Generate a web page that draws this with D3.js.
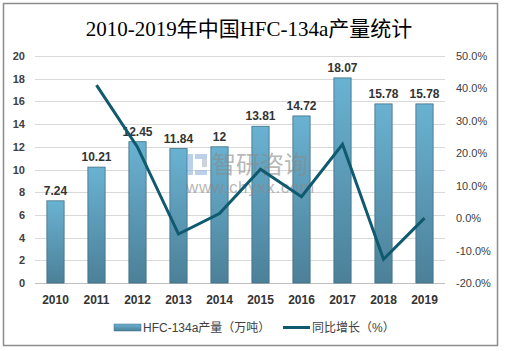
<!DOCTYPE html>
<html>
<head>
<meta charset="utf-8">
<script src="https://cdn.jsdelivr.net/npm/d3@7"></script>
<style>
  body { margin: 0; background: #fff; }
  text { font-family: "Liberation Sans", "Noto Sans CJK SC", sans-serif; }
</style>
</head>
<body>
<div id="chart"></div>
<script>
// data
var years = ["2010", "2011", "2012", "2013", "2014", "2015", "2016", "2017", "2018", "2019"];
var output = [7.24, 10.21, 12.45, 11.84, 12, 13.81, 14.72, 18.07, 15.78, 15.78];
var growth = [null, 41.0, 21.9, -4.9, 1.4, 15.1, 6.6, 22.8, -12.7, 0.0];
var leftTicks = [0, 2, 4, 6, 8, 10, 12, 14, 16, 18, 20];
var rightTicks = [-20, -10, 0, 10, 20, 30, 40, 50];

var W = 505, H = 351;
var margin = {top: 56, right: 60, bottom: 68, left: 35};

var svg = d3.select("#chart").append("svg")
    .attr("width", W)
    .attr("height", H);

// border
svg.append("rect")
    .attr("x", 3.5).attr("y", 3.5)
    .attr("width", 494).attr("height", 342)
    .attr("fill", "#fff")
    .attr("stroke", "#8c8c8c")
    .attr("stroke-width", 1.5);

// title
svg.append("text")
    .attr("x", 249).attr("y", 36)
    .attr("text-anchor", "middle")
    .style("font-family", "'Liberation Serif', 'DejaVu Serif', 'Noto Sans CJK SC', serif")
    .style("font-size", "21px")
    .attr("fill", "#000")
    .text("2010-2019年中国HFC-134a产量统计");

var x = d3.scaleBand()
    .domain(years)
    .range([margin.left, W - margin.right])
    .paddingInner(0.58)
    .paddingOuter(0.29);

var yL = d3.scaleLinear().domain([0, 20]).range([H - margin.bottom, margin.top]);
var yR = d3.scaleLinear().domain([-20, 50]).range([H - margin.bottom, margin.top]);

// gradient for bars
var defs = svg.append("defs");
var grad = defs.append("linearGradient")
    .attr("id", "barGrad")
    .attr("x1", 0).attr("y1", 0).attr("x2", 0).attr("y2", 1);
grad.append("stop").attr("offset", "0%").attr("stop-color", "#6ab2d2");
grad.append("stop").attr("offset", "100%").attr("stop-color", "#4c8098");

// grid lines
svg.append("g")
    .selectAll("line")
    .data(leftTicks)
    .enter().append("line")
    .attr("x1", margin.left)
    .attr("x2", W - margin.right)
    .attr("y1", function (d) { return Math.round(yL(d)) + 0.5; })
    .attr("y2", function (d) { return Math.round(yL(d)) + 0.5; })
    .attr("stroke", function (d) { return d === 0 ? "#bfbfbf" : "#d9d9d9"; })
    .attr("stroke-width", 1);

// left axis
var axL = svg.append("g")
    .attr("transform", "translate(" + margin.left + ",0)")
    .call(d3.axisLeft(yL).tickValues(leftTicks).tickSize(0).tickPadding(10));
axL.select(".domain").remove();
axL.selectAll("text")
    .style("font-size", "11px")
    .style("font-weight", "bold")
    .attr("fill", "#404040");

// right axis
var axR = svg.append("g")
    .attr("transform", "translate(" + (W - margin.right) + ",0)")
    .call(d3.axisRight(yR).tickValues(rightTicks).tickSize(0).tickPadding(11)
        .tickFormat(function (d) { return d.toFixed(1) + "%"; }));
axR.select(".domain").remove();
axR.selectAll("text")
    .style("font-size", "11px")
    .attr("fill", "#404040");

// x axis labels
var axX = svg.append("g")
    .attr("transform", "translate(0," + (H - margin.bottom) + ")")
    .call(d3.axisBottom(x).tickSize(0).tickPadding(12));
axX.select(".domain").remove();
axX.selectAll("text")
    .style("font-size", "12px")
    .style("font-weight", "bold")
    .attr("fill", "#333");

// bars
svg.append("g")
    .selectAll("rect")
    .data(output)
    .enter().append("rect")
    .attr("x", function (d, i) { return x(years[i]); })
    .attr("y", function (d) { return yL(d); })
    .attr("width", x.bandwidth())
    .attr("height", function (d) { return yL(0) - yL(d); })
    .attr("fill", "url(#barGrad)")
    .attr("stroke", "#3f6f86")
    .attr("stroke-width", 0.8);

// bar labels
svg.append("g")
    .selectAll("text")
    .data(output)
    .enter().append("text")
    .attr("x", function (d, i) { return x(years[i]) + x.bandwidth() / 2; })
    .attr("y", function (d) { return yL(d) - 6; })
    .attr("text-anchor", "middle")
    .style("font-size", "12px")
    .style("font-weight", "bold")
    .attr("fill", "#333")
    .text(function (d) { return d; });

// watermark (智研咨询 logo)
var wm = svg.append("g").attr("opacity", 0.6);
wm.append("rect").attr("x", 188).attr("y", 154).attr("width", 5).attr("height", 21).attr("fill", "#8fb4dc");
wm.append("rect").attr("x", 195).attr("y", 154).attr("width", 12).attr("height", 5).attr("fill", "#8fb4dc");
wm.append("rect").attr("x", 202).attr("y", 159).attr("width", 5).attr("height", 8).attr("fill", "#a9b8c8");
wm.append("rect").attr("x", 195).attr("y", 170).attr("width", 12).attr("height", 5).attr("fill", "#8fb4dc");
wm.append("text")
    .attr("x", 212).attr("y", 173)
    .style("font-size", "24px")
    .attr("fill", "#8a8a8a")
    .text("智研咨询");
wm.append("text")
    .attr("x", 186).attr("y", 193)
    .style("font-size", "17px")
    .style("letter-spacing", "0.6px")
    .attr("fill", "#8a8a8a")
    .text("www.chyxx.com");

// growth line
var line = d3.line()
    .defined(function (d) { return d !== null; })
    .x(function (d, i) { return x(years[i]) + x.bandwidth() / 2; })
    .y(function (d) { return yR(d); });

svg.append("path")
    .datum(growth)
    .attr("d", line)
    .attr("fill", "none")
    .attr("stroke", "#0f5a6f")
    .attr("stroke-width", 3)
    .attr("stroke-linejoin", "miter");

// legend
var leg = svg.append("g");
leg.append("rect")
    .attr("x", 114).attr("y", 324)
    .attr("width", 27).attr("height", 7)
    .attr("fill", "url(#barGrad)")
    .attr("stroke", "#3f6f86")
    .attr("stroke-width", 0.5);
leg.append("text")
    .attr("x", 143).attr("y", 332)
    .style("font-size", "12px")
    .attr("fill", "#404040")
    .text("HFC-134a产量（万吨）");
leg.append("line")
    .attr("x1", 283).attr("x2", 310)
    .attr("y1", 327.5).attr("y2", 327.5)
    .attr("stroke", "#0f5a6f")
    .attr("stroke-width", 3);
leg.append("text")
    .attr("x", 312).attr("y", 332)
    .style("font-size", "12px")
    .attr("fill", "#404040")
    .text("同比增长（%）");
</script>
</body>
</html>
